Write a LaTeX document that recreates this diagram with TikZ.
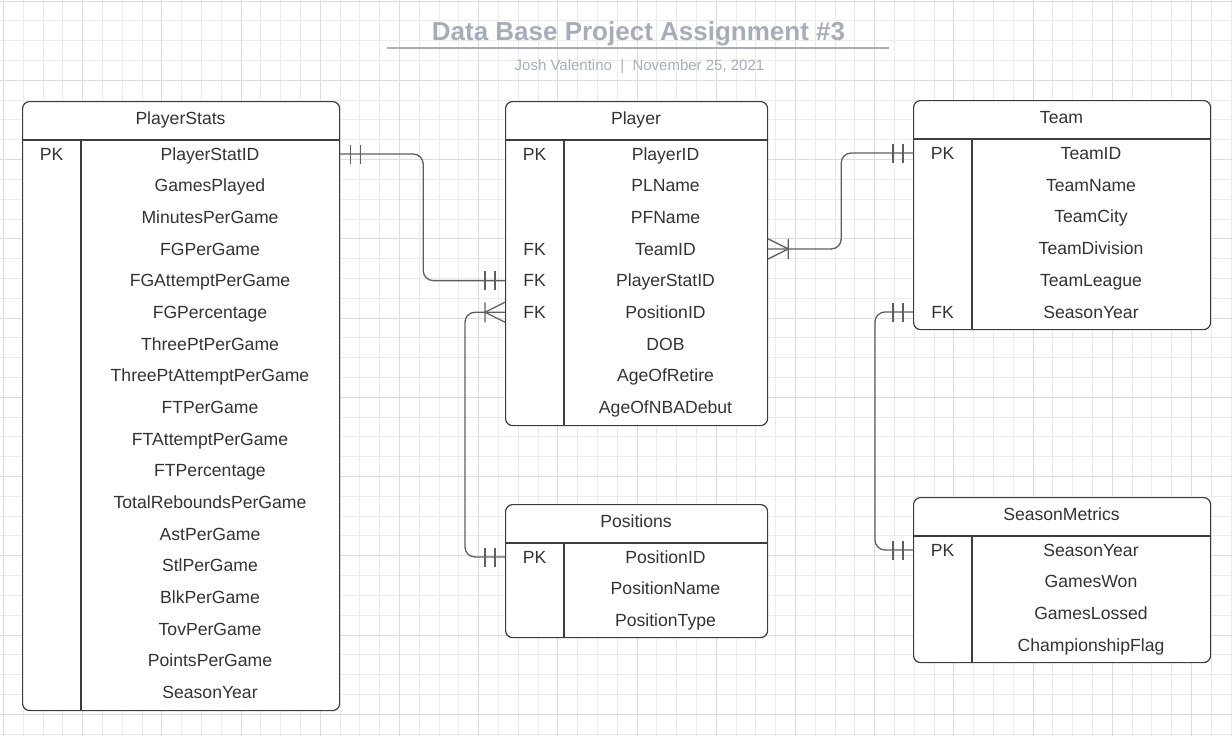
\documentclass[tikz,border=0pt]{standalone}
\usepackage{fontspec}
\setmainfont{Liberation Sans}
\definecolor{gridc}{HTML}{EBEBEB}
\definecolor{gridm}{HTML}{DCDCDC}
\definecolor{boxc}{HTML}{3C3C3C}
\definecolor{linec}{HTML}{5E5E5E}
\definecolor{txtc}{HTML}{333333}
\definecolor{titlec}{HTML}{A7ADB8}
\tikzset{
  tbl/.style={draw=boxc, fill=white, line width=1.2pt, rounded corners=7pt, inner sep=0pt, anchor=north west},
  sep/.style={draw=boxc, line width=1.2pt},
  fld/.style={font=\fontsize{17.6}{20}\selectfont, text=txtc, inner sep=0pt, text height=12.6pt, text depth=0pt},
  rel/.style={draw=linec, line width=1.3pt, rounded corners=10pt},
  pics/oneone/.style={code={\draw[linec, line width=1.3pt] (10,-9.5) -- (10,9.5) (20,-9.5) -- (20,9.5);}},
  pics/crowmany/.style={code={\draw[linec, line width=1.3pt] (20,-10) -- (20,10) (20,0) -- (0,-10) (20,0) -- (0,10);}},
}
\begin{document}
\begin{tikzpicture}[x=1pt, y=-1pt]
\useasboundingbox (0,0) rectangle (1232,736);

% grid
\foreach \n in {0,...,62}
  \draw[gridc, line width=0.8pt] ({3.3+19.8*\n},0) -- ({3.3+19.8*\n},736);
\foreach \n in {0,...,37}
  \draw[gridc, line width=0.8pt] (0,{1+19.81*\n}) -- (1232,{1+19.81*\n});
\foreach \n in {0,4,...,60}
  \draw[gridm, line width=0.8pt] ({3.3+19.8*\n},0) -- ({3.3+19.8*\n},736);
\foreach \n in {0,4,...,36}
  \draw[gridm, line width=0.8pt] (0,{1+19.81*\n}) -- (1232,{1+19.81*\n});

% title
\node[font=\fontsize{26}{30}\selectfont\bfseries, text=titlec] (title) at (638.5,33.5) {Data Base Project Assignment \#3};
\draw[titlec, line width=2pt] (387,48) -- (889,48);
\node[font=\fontsize{15}{18}\selectfont, text=titlec] (author) at (639.5,66.5) {Josh Valentino~~|~~November 25, 2021};

% PlayerStats
\node[tbl, minimum width=317, minimum height=609] (stats) at (22,101) {};
\draw[sep] (22,140) -- (339,140);
\draw[sep] (81,140) -- (81,710);
\node[fld] (stats-h) at (180.5,118) {PlayerStats};
\node[fld] (stats-k) at (51.5,154) {PK};
\foreach \f [count=\i] in {PlayerStatID,GamesPlayed,MinutesPerGame,FGPerGame,FGAttemptPerGame,FGPercentage,ThreePtPerGame,ThreePtAttemptPerGame,FTPerGame,FTAttemptPerGame,FTPercentage,TotalReboundsPerGame,AstPerGame,StlPerGame,BlkPerGame,TovPerGame,PointsPerGame,SeasonYear}
  \node[fld] (s\i) at (210,{154+31.65*(\i-1)}) {\f};

% Player
\node[tbl, minimum width=262, minimum height=324] (player) at (505,101) {};
\draw[sep] (505,140) -- (767,140);
\draw[sep] (564,140) -- (564,425);
\node[fld] (player-h) at (636,118) {Player};
\foreach \f [count=\i] in {PlayerID,PLName,PFName,TeamID,PlayerStatID,PositionID,DOB,AgeOfRetire,AgeOfNBADebut}
  \node[fld] (p\i) at (665.5,{154+31.65*(\i-1)}) {\f};
\node[fld] at (534.5,154) {PK};
\foreach \i in {4,5,6}
  \node[fld] at (534.5,{154+31.65*(\i-1)}) {FK};

% Team
\node[tbl, minimum width=297, minimum height=229] (team) at (913,100) {};
\draw[sep] (913,139) -- (1210,139);
\draw[sep] (972,139) -- (972,329);
\node[fld] (team-h) at (1061.5,117) {Team};
\foreach \f [count=\i] in {TeamID,TeamName,TeamCity,TeamDivision,TeamLeague,SeasonYear}
  \node[fld] (t\i) at (1091,{153+31.8*(\i-1)}) {\f};
\node[fld] at (942.5,153) {PK};
\node[fld] at (942.5,312) {FK};

% Positions
\node[tbl, minimum width=262, minimum height=133] (pos) at (505,504) {};
\draw[sep] (505,543) -- (767,543);
\draw[sep] (564,543) -- (564,637);
\node[fld] (pos-h) at (636,521) {Positions};
\foreach \f [count=\i] in {PositionID,PositionName,PositionType}
  \node[fld] (q\i) at (665.5,{557+31.6*(\i-1)}) {\f};
\node[fld] at (534.5,557) {PK};

% SeasonMetrics
\node[tbl, minimum width=297, minimum height=165] (season) at (913,497) {};
\draw[sep] (913,536) -- (1210,536);
\draw[sep] (972,536) -- (972,662);
\node[fld] (season-h) at (1061.5,514) {SeasonMetrics};
\foreach \f [count=\i] in {SeasonYear,GamesWon,GamesLossed,ChampionshipFlag}
  \node[fld] (m\i) at (1091,{550+31.6*(\i-1)}) {\f};
\node[fld] at (942.5,550) {PK};

% relations
\draw[rel] (stats.east |- s1) -- ++(83,0) |- (player.west |- p5);
\pic at (stats.east |- s1) {oneone};
\pic[xscale=-1] at (player.west |- p5) {oneone};

\draw[rel] (player.east |- p4) -- ++(73,0) |- (team.west |- t1);
\pic at (player.east |- p4) {crowmany};
\pic[xscale=-1] at (team.west |- t1) {oneone};

\draw[rel] (player.west |- p6) -- ++(-40,0) |- (pos.west |- q1);
\pic[xscale=-1] at (player.west |- p6) {crowmany};
\pic[xscale=-1] at (pos.west |- q1) {oneone};

\draw[rel] (team.west |- t6) -- ++(-38,0) |- (season.west |- m1);
\pic[xscale=-1] at (team.west |- t6) {oneone};
\pic[xscale=-1] at (season.west |- m1) {oneone};
\end{tikzpicture}
\end{document}
